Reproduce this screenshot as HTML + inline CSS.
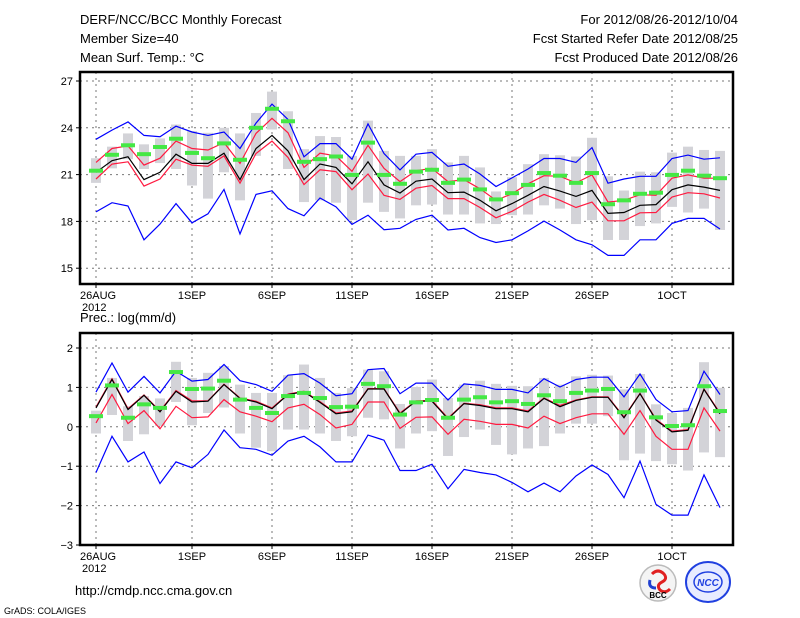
<!DOCTYPE html>
<html><head><meta charset="utf-8"><style>
html,body{margin:0;padding:0;background:#fff;}
body{width:800px;height:618px;overflow:hidden;position:relative;font-family:"Liberation Sans",sans-serif;}
svg{position:absolute;left:0;top:0;}
text{font-family:"Liberation Sans",sans-serif;fill:#000;}
</style></head><body>
<svg id="chart" width="800" height="618" viewBox="0 0 800 618" xmlns="http://www.w3.org/2000/svg">
<g font-size="13">
<text x="80" y="24">DERF/NCC/BCC Monthly Forecast</text>
<text x="80" y="43">Member Size=40</text>
<text x="80" y="62">Mean Surf. Temp.: °C</text>
<text x="738" y="24" text-anchor="end">For 2012/08/26-2012/10/04</text>
<text x="738" y="43" text-anchor="end">Fcst Started Refer Date 2012/08/25</text>
<text x="738" y="62" text-anchor="end">Fcst Produced Date 2012/08/26</text>
</g>
<text x="80" y="322" font-size="13">Prec.: log(mm/d)</text>
<text x="75" y="595" font-size="13">http://cmdp.ncc.cma.gov.cn</text>
<text x="4" y="614" font-size="9">GrADS: COLA/IGES</text>
<g>
<circle cx="658" cy="583" r="18" fill="#f4f4f4" stroke="#bbb" stroke-width="1.5"/>
<path d="M652 574 q6 -6 12 0 q4 5 -2 8 q-6 3 -2 8 q5 4 10 -1" fill="none" stroke="#e02020" stroke-width="3"/>
<path d="M650 580 q-2 8 6 8" fill="none" stroke="#2040d0" stroke-width="3"/>
<text x="658" y="598" font-size="8" text-anchor="middle" font-weight="bold">BCC</text>
</g>
<g>
<ellipse cx="708" cy="582" rx="22" ry="20" fill="#e8ecff" stroke="#2040e0" stroke-width="2"/>
<ellipse cx="708" cy="582" rx="14" ry="10" fill="none" stroke="#2040e0" stroke-width="1.5"/>
<text x="708" y="586" font-size="10" text-anchor="middle" font-style="italic" font-weight="bold" style="fill:#2040e0">NCC</text>
</g>
<g id="top"></g>
<g id="bot"></g>
</svg>
<script>
const dateLabels=["26AUG","1SEP","6SEP","11SEP","16SEP","21SEP","26SEP","1OCT"];
const dateIdx=[0,6,11,16,21,26,31,36];
const tTicks=[15,18,21,24,27];
const pTicks=[-3,-2,-1,0,1,2];
// Temperature panel
const tMax=[23.26,23.85,24.38,23.51,23.43,24.1,23.73,23.51,23.73,22.67,24.3,25.52,24.53,22.14,22.99,22.99,21.99,24.25,22.35,21.3,22.31,22.42,21.53,21.68,21.04,20.24,20.79,21.36,22.03,22.03,21.78,22.73,20.45,20.72,20.89,20.89,22.03,22.25,21.99,22.08];
const tMin=[18.61,19.2,18.99,16.82,17.83,19.14,17.91,18.49,20.05,17.2,19.73,19.96,18.82,18.36,19.5,18.93,17.81,18.4,17.47,17.56,18.13,18.4,17.45,17.56,16.96,16.65,16.82,17.39,18.02,17.45,16.82,16.5,15.82,15.82,16.82,16.82,17.87,18.19,18.19,17.51];
const tMean=[21.15,21.89,22.14,20.68,21.15,22.31,21.72,21.72,22.37,20.68,22.67,23.51,22.52,20.68,21.68,21.46,20.41,21.82,20.34,19.82,20.58,20.72,19.84,19.88,19.35,18.68,19.14,19.67,20.24,19.94,19.6,19.99,18.51,18.57,19.03,19.08,20.03,20.34,20.2,19.99];
const tUp=[21.78,22.67,22.84,21.61,22.05,23.15,22.67,22.58,23.05,21.72,23.64,24.61,23.68,21.46,22.37,22.2,21.21,22.88,21.4,20.55,21.25,21.4,20.55,20.68,20.09,19.35,19.77,20.41,20.93,20.89,20.47,20.98,19.24,19.35,19.71,19.67,20.77,20.98,20.77,20.77];
const tLo=[20.72,21.67,21.82,20.26,20.72,21.99,21.61,21.53,22.2,20.45,22.35,23.15,22.1,20.36,21.31,21.19,20.03,21.04,19.67,19.41,20.13,20.3,19.46,19.46,18.89,18.23,18.65,19.24,19.73,19.35,18.89,19.24,18.04,18.04,18.55,18.57,19.56,19.84,19.77,19.5];
const tObs=[21.25,22.27,22.88,22.31,22.77,23.3,22.39,22.05,23.0,21.95,24.0,25.22,24.42,21.82,21.99,22.16,20.98,23.05,20.98,20.41,21.19,21.31,20.47,20.68,20.05,19.41,19.81,20.34,21.1,20.93,20.47,21.1,19.1,19.35,19.77,19.84,20.98,21.25,20.93,20.77];
const tBarHi=[22.05,22.79,23.64,22.94,23.32,24.21,23.79,23.68,24.0,23.64,24.95,26.32,25.06,22.63,23.47,23.41,22.2,24.46,22.52,22.2,22.2,22.63,21.78,22.2,21.46,19.92,20.83,21.67,22.31,22.24,22.16,23.36,20.89,19.98,21.19,21.15,22.41,22.79,22.58,22.52];
const tBarLo=[20.47,21.4,21.99,21.36,21.74,21.36,20.3,19.46,21.15,19.35,22.2,23.89,21.36,19.24,19.35,19.2,18.08,19.2,18.61,18.19,19.03,19.08,18.44,18.44,17.87,17.83,18.4,18.44,19.03,18.82,17.83,18.08,16.81,16.81,17.7,17.87,18.93,18.57,18.82,17.45];
// Precipitation panel
const pMax=[0.88,1.62,0.88,1.28,0.86,1.41,1.16,1.2,1.58,1.17,1.07,0.9,1.31,1.35,1.11,0.79,0.84,1.45,1.48,0.84,1.11,1.11,0.68,1.09,1.05,0.95,0.95,0.86,1.22,1.01,1.2,1.26,1.26,0.76,1.34,0.69,0.38,0.41,1.41,0.82];
const pMin=[-1.16,-0.24,-0.89,-0.64,-1.44,-0.89,-1.04,-0.7,-0.08,-0.53,-0.57,-0.72,-0.36,-0.24,-0.51,-0.89,-0.89,-0.21,-0.34,-1.11,-1.11,-0.95,-1.57,-1.08,-1.16,-1.22,-1.41,-1.65,-1.43,-1.65,-1.25,-0.97,-1.21,-1.8,-0.87,-1.97,-2.24,-2.24,-1.22,-2.05];
const pMean=[0.48,1.2,0.44,0.8,0.38,0.9,0.63,0.65,1.07,0.72,0.63,0.46,0.82,0.89,0.62,0.33,0.38,0.96,0.96,0.33,0.65,0.65,0.2,0.59,0.54,0.46,0.46,0.38,0.72,0.51,0.67,0.75,0.75,0.23,0.84,0.17,-0.13,-0.09,0.95,0.33];
const pUp=[0.5,1.22,0.46,0.81,0.4,0.92,0.66,0.66,1.08,0.73,0.65,0.48,0.83,0.9,0.64,0.35,0.4,0.97,0.97,0.35,0.66,0.67,0.22,0.6,0.56,0.48,0.48,0.4,0.73,0.54,0.68,0.76,0.76,0.25,0.85,0.19,-0.11,-0.07,0.96,0.35];
const pLo=[0.1,0.82,0.08,0.41,-0.05,0.52,0.23,0.25,0.69,0.38,0.27,0.13,0.48,0.57,0.31,-0.03,0.06,0.63,0.63,-0.04,0.24,0.25,-0.19,0.19,0.14,0.06,0.06,-0.03,0.27,0.08,0.23,0.33,0.33,-0.19,0.41,-0.24,-0.57,-0.57,0.48,-0.11];
const pObs=[0.27,1.05,0.23,0.57,0.48,1.39,0.96,0.97,1.17,0.69,0.48,0.35,0.78,0.86,0.73,0.5,0.51,1.09,1.03,0.31,0.62,0.68,0.23,0.69,0.75,0.62,0.65,0.58,0.8,0.65,0.86,0.92,0.96,0.37,0.92,0.24,0.02,0.04,1.03,0.4];
const pBarHi=[0.41,1.24,0.52,0.78,0.72,1.65,1.24,1.37,1.54,1.07,0.86,0.86,1.31,1.58,1.24,0.86,0.98,1.45,1.41,0.58,1.01,1.2,0.73,1.07,1.17,1.09,1.04,1.03,1.24,1.07,1.28,1.32,1.3,0.95,1.34,0.57,0.35,0.48,1.64,0.99];
const pBarLo=[-0.17,0.3,-0.36,-0.19,0.02,0.63,0.04,0.35,0.49,-0.17,-0.53,-0.62,-0.07,-0.07,-0.17,-0.36,-0.24,0.23,0.19,-0.55,-0.17,-0.11,-0.74,-0.26,-0.07,-0.46,-0.7,-0.55,-0.49,-0.17,0.08,0.08,0.27,-0.85,-0.68,-0.87,-0.95,-1.11,-0.65,-0.77];

const NS="http://www.w3.org/2000/svg";
function mk(tag,attrs,parent){const e=document.createElementNS(NS,tag);for(const k in attrs)e.setAttribute(k,attrs[k]);parent.appendChild(e);return e;}
const xs=i=>96+16*i;
function panel(g,cfg){
  const y=v=>cfg.top0+(cfg.vTop-v)*cfg.ppu;
  const L=80,R=733,T=cfg.fT,B=cfg.fB;
  // grid
  cfg.ticks.forEach(t=>{
    const yy=y(t);
    if(yy>T+1&&yy<B-1){const gl=mk('line',{x1:L,x2:R,y1:yy,y2:yy,stroke:'#777','stroke-width':1,'stroke-dasharray':'2,4'},g);
    
    }
    const tk=mk('line',{x1:L-4,x2:L,y1:yy,y2:yy,stroke:'#000'},g);
    
    
    const tl=mk('text',{x:L-7,y:yy+4,'font-size':11,'text-anchor':'end'},g);
    tl.textContent=t<0?('\u2212'+(-t)):String(t);
    
    
  });
  dateIdx.forEach((d,k)=>{
    const xx=xs(d);
    const vl=mk('line',{x1:xx,x2:xx,y1:T,y2:B,stroke:'#777','stroke-width':1,'stroke-dasharray':'2,4'},g);
    
    
    const tk=mk('line',{x1:xx,x2:xx,y1:B,y2:B+4,stroke:'#000'},g);
    
    
    const tl=mk('text',{x:k==0?xx-16:xx,y:B+15,'font-size':11,'text-anchor':k==0?'start':'middle'},g);
    tl.textContent=dateLabels[k];
    
    
  });
  const yr=mk('text',{x:82,y:B+27,'font-size':11},g);
  yr.textContent='2012';
  
  
  // bars
  cfg.hi.forEach((h,i)=>{
    const b=mk('rect',{x:xs(i)-5,y:y(h),width:10,height:Math.max(1,y(cfg.lo[i])-y(h)),fill:'#d3d3d8'},g);
    
    
  });
  function line(arr,col,name){
    const p=mk('polyline',{points:arr.map((v,i)=>xs(i)+','+y(v).toFixed(1)).join(' '),fill:'none',stroke:col,'stroke-width':1.2},g);
    
    
  }
  line(cfg.max,'#0000ff','ensemble-max-line');
  line(cfg.min,'#0000ff','ensemble-min-line');
  line(cfg.lo2,'#ff1a40','lower-bound-line');
  line(cfg.up,'#ff1a40','upper-bound-line');
  line(cfg.mean,'#000000','ensemble-mean-line');
  cfg.obs.forEach((v,i)=>{
    const m=mk('rect',{x:xs(i)-7,y:y(v)-2,width:14,height:4,fill:'#44e844'},g);
    
    
  });
  const fr=mk('rect',{x:L,y:T,width:R-L,height:B-T,fill:'none',stroke:'#000','stroke-width':2.5},g);
  
  
}
const gt=document.getElementById('top');


const gb=document.getElementById('bot');


panel(gt,{top0:81,vTop:27,ppu:15.6,fT:72,fB:284,ticks:tTicks,hi:tBarHi,lo:tBarLo,max:tMax,min:tMin,up:tUp,lo2:tLo,mean:tMean,obs:tObs});
panel(gb,{top0:348,vTop:2,ppu:39.4,fT:333,fB:545,ticks:pTicks,hi:pBarHi,lo:pBarLo,max:pMax,min:pMin,up:pUp,lo2:pLo,mean:pMean,obs:pObs});
</script>
</body></html>
